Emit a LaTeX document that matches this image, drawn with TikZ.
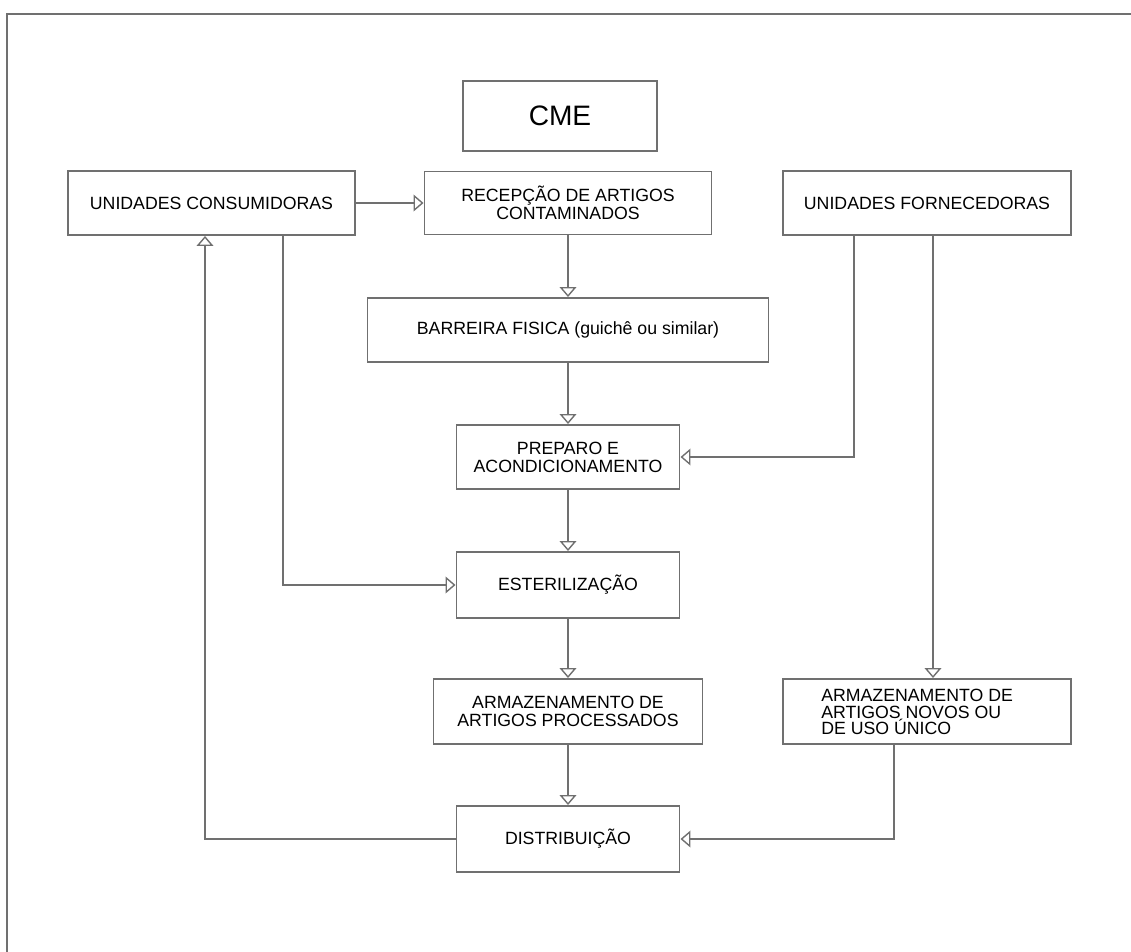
\documentclass[tikz,border=0pt]{standalone}
\usepackage{fontspec}
\setmainfont{Liberation Sans}
\usetikzlibrary{arrows.meta}
\definecolor{linegray}{HTML}{707070}
\begin{document}
\begin{tikzpicture}[x=0.025cm,y=-0.025cm,
  box/.style={draw=linegray,line width=1.4pt,rectangle,inner sep=0pt,align=center,
    font=\fontsize{12.6}{12.8}\selectfont},
  conn/.style={draw=linegray,line width=1.4pt},
  arr/.style={conn,-{Triangle[open,length=0.25cm,width=0.42cm,line width=1pt]}}]
\useasboundingbox (0,0) rectangle (1131,952);
\draw[conn] (7,952) -- (7,14) -- (1131,14);
% boxes
\node[box,minimum width=194*0.025cm,minimum height=70*0.025cm,font=\fontsize{20}{22}\selectfont] (cme) at (560,116) {CME};
\node[box,minimum width=287*0.025cm,minimum height=64*0.025cm] (cons) at (211.5,203) {UNIDADES CONSUMIDORAS};
\node[box,minimum width=287*0.025cm,minimum height=63*0.025cm] (rec) at (568,203) {RECEPÇÃO DE ARTIGOS\\CONTAMINADOS};
\node[box,minimum width=288*0.025cm,minimum height=64*0.025cm] (forn) at (927,203) {UNIDADES FORNECEDORAS};
\node[box,minimum width=401*0.025cm,minimum height=64*0.025cm] (barr) at (568,330) {BARREIRA FISICA (guichê ou similar)};
\node[box,minimum width=223*0.025cm,minimum height=64*0.025cm] (prep) at (568,457) {PREPARO E\\ACONDICIONAMENTO};
\node[box,minimum width=223*0.025cm,minimum height=66*0.025cm] (est) at (568,585) {ESTERILIZAÇÃO};
\node[box,minimum width=269*0.025cm,minimum height=65*0.025cm] (armp) at (568,711.5) {ARMAZENAMENTO DE\\ARTIGOS PROCESSADOS};
\node[box,minimum width=223*0.025cm,minimum height=66*0.025cm] (dist) at (568,839) {DISTRIBUIÇÃO};
\node[box,minimum width=288*0.025cm,minimum height=65*0.025cm] (novo) at (927,711.5) {};
\node[anchor=west,inner sep=0pt,align=left,font=\fontsize{12.6}{11.6}\selectfont] (novotxt) at (821,712) {ARMAZENAMENTO DE\\ARTIGOS NOVOS OU\\DE USO ÚNICO};
% helper coordinates
\coordinate (f1) at (854,0);
\coordinate (f2) at (933,0);
\coordinate (f3) at (894,0);
\coordinate (f4) at (205,0);
\coordinate (f5) at (283,0);
% connectors
\draw[arr] (cons.east) -- (rec.west);
\draw[arr] (rec.south) -- (barr.north);
\draw[arr] (barr.south) -- (prep.north);
\draw[arr] (prep.south) -- (est.north);
\draw[arr] (est.south) -- (armp.north);
\draw[arr] (armp.south) -- (dist.north);
\draw[arr] (forn.south -| f1) |- (prep.east);
\draw[arr] (forn.south -| f2) -- (novo.north -| f2);
\draw[arr] (novo.south -| f3) |- (dist.east);
\draw[arr] (dist.west) -| (cons.south -| f4);
\draw[arr] (cons.south -| f5) |- (est.west);
\end{tikzpicture}
\end{document}
